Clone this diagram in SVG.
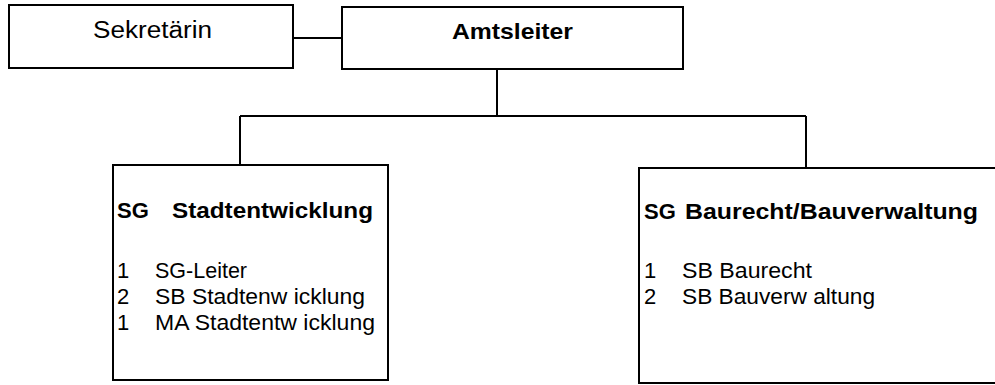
<svg xmlns="http://www.w3.org/2000/svg" width="995" height="385" viewBox="0 0 995 385">
<style>
.box{fill:#fff;stroke:#000;stroke-width:2}
.con{fill:none;stroke:#000;stroke-width:2}
text{font-family:"Liberation Sans",Arial,sans-serif;fill:#000}
.t{font-size:23px}
.b{font-size:22px;font-weight:bold}
.i{font-size:22px}
</style>
<rect width="995" height="385" fill="#fff"/>
<g id="connectors">
<path class="con" d="M293 38H342"/>
<path class="con" d="M497 69V116M240 116H806M240 116V165M806 116V168"/>
</g>
<g id="sekretaerin">
<rect class="box" x="9" y="5" width="284" height="63"/>
<text class="t" x="93" y="38" textLength="119" lengthAdjust="spacingAndGlyphs">Sekretärin</text>
</g>
<g id="amtsleiter">
<rect class="box" x="342" y="7" width="341" height="62"/>
<text class="b" x="452" y="39" textLength="121" lengthAdjust="spacingAndGlyphs">Amtsleiter</text>
</g>
<g id="sg-stadtentwicklung">
<rect class="box" x="113" y="165" width="275" height="215"/>
<text class="b" x="117" y="218">SG</text>
<text class="b" x="172" y="218" textLength="201" lengthAdjust="spacingAndGlyphs">Stadtentwicklung</text>
<text class="i" x="117" y="278">1</text><text class="i" x="155" y="278" textLength="92" lengthAdjust="spacingAndGlyphs">SG-Leiter</text>
<text class="i" x="117" y="304">2</text><text class="i" x="155" y="304" textLength="210" lengthAdjust="spacingAndGlyphs">SB Stadtenw icklung</text>
<text class="i" x="117" y="330">1</text><text class="i" x="155" y="330" textLength="220" lengthAdjust="spacingAndGlyphs">MA Stadtentw icklung</text>
</g>
<g id="sg-baurecht">
<rect class="box" x="639" y="168" width="370" height="215"/>
<text class="b" x="644" y="219">SG</text>
<text class="b" x="685" y="219" textLength="293" lengthAdjust="spacingAndGlyphs">Baurecht/Bauverwaltung</text>
<text class="i" x="644" y="278">1</text><text class="i" x="682" y="278" textLength="130" lengthAdjust="spacingAndGlyphs">SB Baurecht</text>
<text class="i" x="644" y="304">2</text><text class="i" x="682" y="304" textLength="193" lengthAdjust="spacingAndGlyphs">SB Bauverw altung</text>
</g>
</svg>
